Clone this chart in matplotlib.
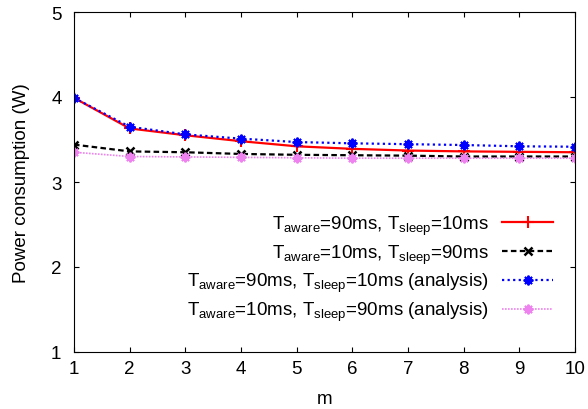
import numpy as np
import matplotlib
matplotlib.use('Agg')
import matplotlib.pyplot as plt

plt.rcParams['font.family'] = ['Liberation Sans', 'DejaVu Sans']
plt.rcParams['mathtext.default'] = 'regular'

m = [1, 2, 3, 4, 5, 6, 7, 8, 9, 10]
aware90_sim = [3.99, 3.63, 3.55, 3.48, 3.42, 3.39, 3.37, 3.36, 3.355, 3.35]
aware10_sim = [3.44, 3.36, 3.35, 3.33, 3.32, 3.315, 3.31, 3.30, 3.30, 3.30]
aware90_ana = [3.99, 3.65, 3.56, 3.51, 3.47, 3.455, 3.445, 3.435, 3.42, 3.415]
aware10_ana = [3.35, 3.30, 3.295, 3.29, 3.285, 3.28, 3.28, 3.28, 3.28, 3.28]

labels = [r'T$_{aware}$=90ms, T$_{sleep}$=10ms',
          r'T$_{aware}$=10ms, T$_{sleep}$=90ms',
          r'T$_{aware}$=90ms, T$_{sleep}$=10ms (analysis)',
          r'T$_{aware}$=10ms, T$_{sleep}$=90ms (analysis)']

star = (8, 2, 0)
fs = 13.5

fig = plt.figure(figsize=(5.88, 4.10), dpi=100)
ax = fig.add_axes([74/588, 1-353/410, 501/588, 340/410])

ax.plot(m, aware90_sim, color='red', lw=1.6, marker='+', ms=8, mew=1.5, label=labels[0])
ax.plot(m, aware10_sim, color='black', lw=1.6, ls=(0, (2.5, 1.5)), marker='x', ms=6, mew=1.8, label=labels[1])
ax.plot(m, aware90_ana, color='blue', lw=1.6, ls=(0, (1, 1.5)), marker=star, ms=7, mew=1.4, label=labels[2])
ax.plot(m, aware10_ana, color='violet', lw=1.2, ls=(0, (1, 0.8)), marker=star, ms=7, mew=1.4, label=labels[3])

ax.set_xlim(1, 10)
ax.set_ylim(1, 5)
ax.set_xticks(m)
ax.set_yticks([1, 2, 3, 4, 5])
ax.tick_params(direction='in', top=True, right=True, length=3.5, labelsize=fs)
ax.tick_params(axis='x', pad=6)
ax.tick_params(axis='y', pad=9)
ax.set_xlabel('m', fontsize=fs, labelpad=9)
ax.set_ylabel('Power consumption (W)', fontsize=fs, labelpad=15)

leg = ax.legend(loc='lower right', bbox_to_anchor=(0.975, 0.057), markerfirst=False,
                frameon=False, fontsize=fs, handlelength=2.7, handletextpad=0.75,
                borderpad=0, labelspacing=0.3)

fig.savefig('out.png', dpi=100)
